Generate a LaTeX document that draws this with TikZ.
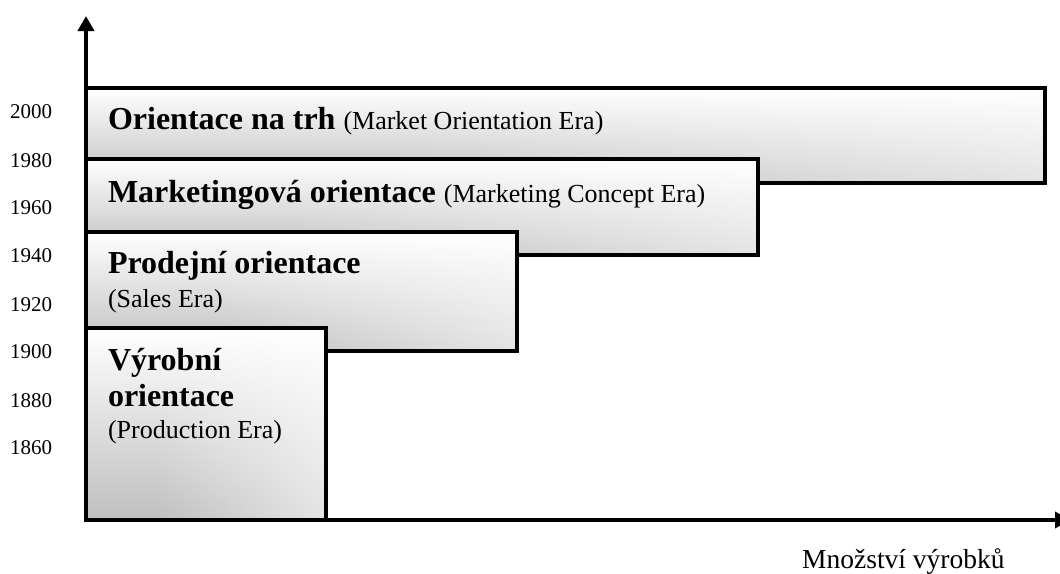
\documentclass[tikz,border=0pt]{standalone}
\usepackage{fontspec}
\setmainfont{Liberation Serif}
\usetikzlibrary{arrows.meta,fadings}

% fading for the white wash over each era box: clear on the left, solid at the right edge
\pgfdeclarehorizontalshading{erawashshade}{100bp}{color(0bp)=(black); color(40bp)=(black); color(100bp)=(white)}
\pgfdeclarefading{erawash}{\pgfuseshading{erawashshade}}

\newcommand{\erabold}{\fontsize{32}{38}\selectfont\bfseries}
\newcommand{\eranorm}{\fontsize{26}{31}\selectfont\mdseries}

\tikzset{
  erabox/.style={draw=black, line width=4pt, inner sep=0pt, outer sep=0pt,
    anchor=north west, top color=white, bottom color=black!25,
    path picture={\fill[white, path fading=erawash]
      (path picture bounding box.south west) rectangle (path picture bounding box.north east);}},
  eratext/.style={anchor=base west, inner sep=0pt, outer sep=0pt},
  yearlabel/.style={anchor=base west, inner sep=0pt, font=\fontsize{21}{25}\selectfont},
  axisline/.style={line width=4pt, -{Triangle[length=15pt,width=16pt]}}
}

\begin{document}
\begin{tikzpicture}[x=1pt, y=-1pt]
\useasboundingbox (0,0) rectangle (1060,573);

% era boxes, later eras behind earlier ones
\node[erabox, minimum width=959pt, minimum height=95pt] (market) at (86,88) {};
\node[erabox, minimum width=672pt, minimum height=96pt] (marketing) at (86,159) {};
\node[erabox, minimum width=431pt, minimum height=119pt] (sales) at (86,232) {};
\node[erabox, minimum width=240pt, minimum height=192pt] (production) at (86,328) {};

% box texts
\node[eratext] (tmarket) at (108,129) {\erabold Orientace na trh \eranorm(Market Orientation Era)};
\node[eratext] (tmarketing) at (108,202) {\erabold Marketingová orientace \eranorm(Marketing Concept Era)};
\node[eratext] (tsales) at (108,273) {\erabold Prodejní orientace};
\node[eratext] (tsalesen) at (108,307) {\eranorm(Sales Era)};
\node[eratext] (tprod) at (108,370) {\erabold Výrobní};
\node[eratext] (tprodb) at (108,406) {\erabold orientace};
\node[eratext] (tproden) at (108,438) {\eranorm(Production Era)};

% year scale
\node[yearlabel] (y2000) at (10,118) {2000};
\node[yearlabel] (y1980) at (10,167) {1980};
\node[yearlabel] (y1960) at (10,214) {1960};
\node[yearlabel] (y1940) at (10,262) {1940};
\node[yearlabel] (y1920) at (10,311) {1920};
\node[yearlabel] (y1900) at (10,358) {1900};
\node[yearlabel] (y1880) at (10,407) {1880};
\node[yearlabel] (y1860) at (10,454) {1860};

% axes
\coordinate (origin) at (86,520);
\coordinate (ybase) at (86,522);
\coordinate (ytop) at (86,16);
\coordinate (xbase) at (84,520);
\coordinate (xend) at (1070,520);
\draw[axisline] (ybase) -- (ytop);
\draw[axisline] (xbase) -- (xend);

\node[anchor=base west, inner sep=0pt, font=\fontsize{27.5}{32}\selectfont] (xlabel) at (802,568) {Množství výrobků};
\end{tikzpicture}
\end{document}
